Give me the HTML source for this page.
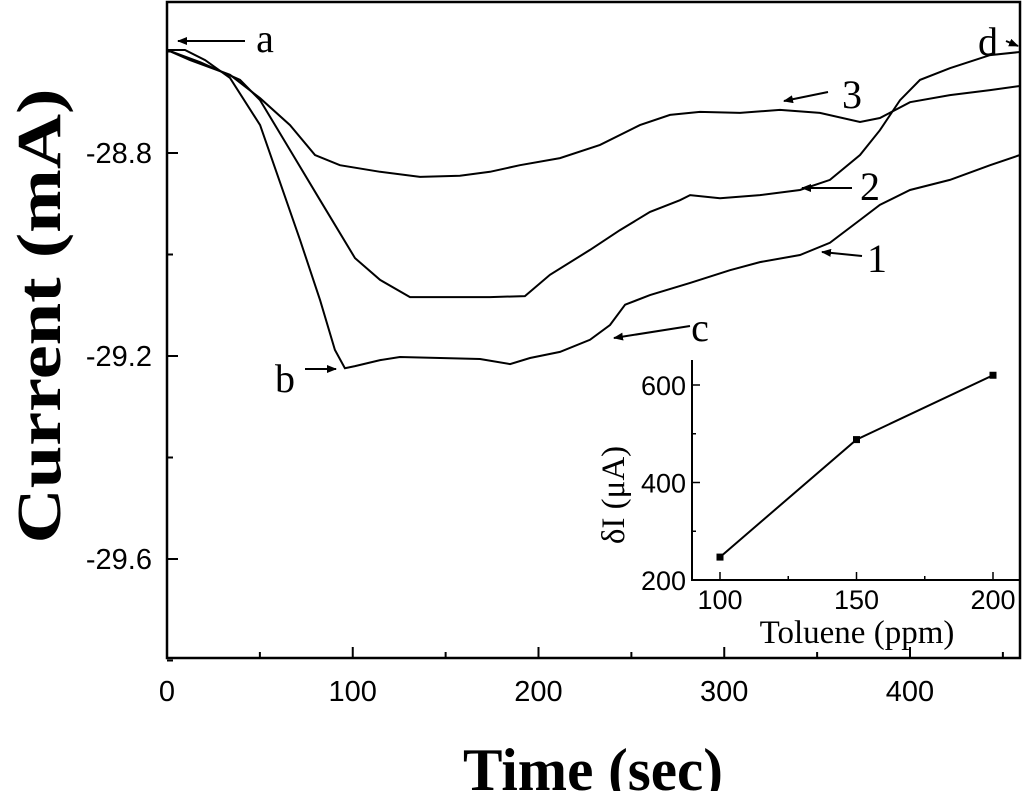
<!DOCTYPE html>
<html><head><meta charset="utf-8"><style>
html,body{margin:0;padding:0;background:#fff;}
svg{display:block;}
text{font-family:"Liberation Sans",sans-serif;fill:#000;}
.serif{font-family:"Liberation Serif",serif;}
</style></head><body>
<svg id="chart" width="1024" height="791" viewBox="0 0 1024 791" xmlns="http://www.w3.org/2000/svg"></svg>
<script>
const xTicks=[0,100,200,300,400];
const yTicks=[-28.8,-29.2,-29.6];
const yTickLabels=["-28.8","-29.2","-29.6"];
const t1=[0,9.7,20.5,33.9,50.1,71.6,82.4,90.4,95.8,101.2,114.7,125.4,147,168.5,184.7,195.4,211.6,227.7,238.5,246.6,260,281.6,303.1,319.2,340.8,356.9,373.1,383.8,400,421.5,443.1,459.2];
const i1=[-28.597,-28.597,-28.617,-28.652,-28.745,-28.971,-29.09,-29.188,-29.224,-29.22,-29.208,-29.202,-29.204,-29.206,-29.216,-29.204,-29.192,-29.168,-29.139,-29.099,-29.08,-29.056,-29.031,-29.015,-29.001,-28.977,-28.932,-28.902,-28.873,-28.853,-28.824,-28.804];
const t2=[0,17.8,39.3,50.1,66.2,82.4,101.2,114.7,130.8,152.4,173.9,192.7,206.2,227.7,243.9,260,276.2,281.6,297.7,319.2,340.8,356.9,373.1,383.8,394.6,405.4,421.5,443.1,459.2];
const i2=[-28.597,-28.621,-28.656,-28.696,-28.794,-28.893,-29.007,-29.05,-29.084,-29.084,-29.084,-29.082,-29.04,-28.991,-28.952,-28.916,-28.893,-28.883,-28.889,-28.883,-28.873,-28.853,-28.804,-28.755,-28.696,-28.656,-28.633,-28.607,-28.601];
const t3=[0,12.4,33.9,50.1,66.2,79.7,93.1,114.7,136.2,157.7,173.9,190,211.6,233.1,254.6,270.8,286.9,308.5,330,351.5,373.1,383.8,400,421.5,443.1,459.2];
const i3=[-28.597,-28.617,-28.646,-28.692,-28.745,-28.804,-28.824,-28.837,-28.847,-28.845,-28.837,-28.824,-28.81,-28.784,-28.745,-28.725,-28.719,-28.721,-28.715,-28.721,-28.739,-28.731,-28.7,-28.686,-28.676,-28.668];
const insetX=[100,150,200];
const insetY=[247,488,620];
const insetXTicks=[100,150,200];
const insetYTicks=[200,400,600];

const NS="http://www.w3.org/2000/svg";
const svg=document.getElementById('chart');
function el(tag,attrs,parent){const e=document.createElementNS(NS,tag);for(const k in attrs)e.setAttribute(k,attrs[k]);(parent||svg).appendChild(e);return e;}
const L=167,R=1020,T=2,B=658;
const sx=v=>L+v*1.8575;
const sy=v=>153+(-28.8-v)*203/0.4;

const frame=el('rect',{x:L,y:T,width:R-L,height:B-T,fill:'none',stroke:'#000','stroke-width':2.5});



for(let v=0;v<=450;v+=50){
  const major=v%100===0;const x=sx(v);
  const tk=el('line',{x1:x,x2:x,y1:B,y2:B-(major?11:6),stroke:'#000','stroke-width':2});
  
  
}
xTicks.forEach(v=>{
  const t=el('text',{x:sx(v),y:701,'font-size':29,'text-anchor':'middle'});t.textContent=v;
  
  
});
for(let v=-28.6;v>=-29.8;v-=0.2){
  const y=sy(v);const major=Math.abs(((v+28.8)/0.4)-Math.round((v+28.8)/0.4))<0.01;
  const tk=el('line',{x1:L,x2:L+(major?11:6),y1:y,y2:y,stroke:'#000','stroke-width':2});
  
  
}
yTicks.forEach((v,i)=>{
  const t=el('text',{x:152,y:sy(v)+10,'font-size':29,'text-anchor':'end'});t.textContent=yTickLabels[i];
  
  
});
const xt=el('text',{x:593,y:790,'font-size':60,'font-weight':'bold','text-anchor':'middle','class':'serif',textLength:260,lengthAdjust:'spacingAndGlyphs'});xt.textContent='Time (sec)';


const yt=el('text',{x:0,y:0,'font-size':62,'font-weight':'bold','text-anchor':'middle','class':'serif',textLength:455,lengthAdjust:'spacingAndGlyphs',transform:'translate(60,316) rotate(-90)'});yt.textContent='Current (mA)';



function line(ts,is,name){
  const d=ts.map((t,i)=>(i?'L':'M')+sx(t).toFixed(1)+','+sy(is[i]).toFixed(1)).join(' ');
  const p=el('path',{d:d,fill:'none',stroke:'#000','stroke-width':2});
  
  
}
line(t1,i1,'curve-1');line(t2,i2,'curve-2');line(t3,i3,'curve-3');

const defs=el('defs',{});
const m=el('marker',{id:'ah',markerWidth:10,markerHeight:8,refX:9,refY:4,orient:'auto',markerUnits:'userSpaceOnUse'},defs);
el('path',{d:'M0,0 L10,4 L0,8 Z',fill:'#000'},m);
function ann(x1,y1,x2,y2,lx,ly,txt,name){
  const a=el('line',{x1:x1,y1:y1,x2:x2,y2:y2,stroke:'#000','stroke-width':2,'marker-end':'url(#ah)'});
  
  
  const t=el('text',{x:lx,y:ly,'font-size':40,'class':'serif','text-anchor':'middle'});t.textContent=txt;
  
  
}
ann(245,41,178,41,265,52,'a','annotation-a');
ann(305,369,336,369,285,392,'b','annotation-b');
ann(690,326,614,338,700,341,'c','annotation-c');
ann(1006,41,1018,46,988,55,'d','annotation-d');
ann(828,92,784,101,852,108,'3','annotation-3');
ann(852,188,802,188,870,200,'2','annotation-2');
ann(862,256,822,252,877,272,'1','annotation-1');

// inset
const IL=692,IR=1019,IT=360,IB=580;
const ix=v=>720+(v-100)*136.5/50;
const iy=v=>580-(v-200)*0.4875;
const ax=el('path',{d:`M${IL},${IT} L${IL},${IB} L${IR},${IB}`,fill:'none',stroke:'#000','stroke-width':2});


for(let v=100;v<=200;v+=25){const x=ix(v);const mj=v%50===0;
  const tk=el('line',{x1:x,x2:x,y1:IB,y2:IB-(mj?8:4),stroke:'#000','stroke-width':1.5});
  
  }
for(let v=200;v<=600;v+=100){const y=iy(v);const mj=v%200===0;
  const tk=el('line',{x1:IL,x2:IL+(mj?8:4),y1:y,y2:y,stroke:'#000','stroke-width':1.5});
  
  }
insetXTicks.forEach(v=>{const t=el('text',{x:ix(v),y:609,'font-size':27,'text-anchor':'middle'});t.textContent=v;
  
  });
insetYTicks.forEach(v=>{const t=el('text',{x:686,y:iy(v)+10,'font-size':27,'text-anchor':'end'});t.textContent=v;
  
  });
const ixt=el('text',{x:857,y:643,'font-size':33,'text-anchor':'middle','class':'serif'});ixt.textContent='Toluene (ppm)';


const iyt=el('text',{x:0,y:0,'font-size':33,'text-anchor':'middle','class':'serif',transform:'translate(624,495) rotate(-90)'});iyt.textContent='δI (μA)';


const il=el('path',{d:insetX.map((v,i)=>(i?'L':'M')+ix(v)+','+iy(insetY[i])).join(' '),fill:'none',stroke:'#000','stroke-width':2});


insetX.forEach((v,i)=>{const r=el('rect',{x:ix(v)-3.5,y:iy(insetY[i])-3.5,width:7,height:7,fill:'#000'});
  
  });
</script>
</body></html>
